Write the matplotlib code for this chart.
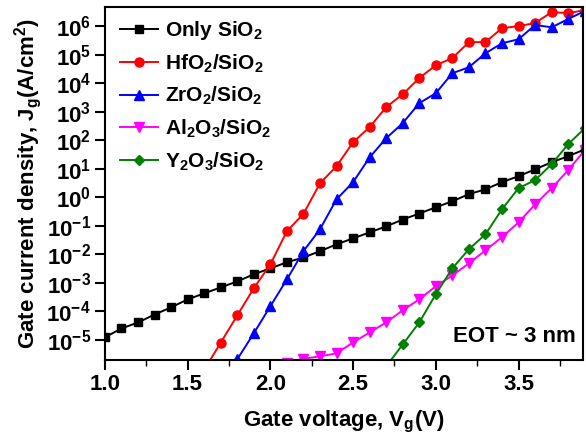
import numpy as np
import matplotlib.pyplot as plt
from matplotlib.ticker import LogLocator, MultipleLocator, NullFormatter

# Fonts: Arial-like bold everywhere, including mathtext sub/superscripts
plt.rcParams['font.family'] = 'Liberation Sans'
plt.rcParams['font.weight'] = 'bold'
plt.rcParams['mathtext.fontset'] = 'custom'
plt.rcParams['mathtext.rm'] = 'Liberation Sans:bold'
plt.rcParams['mathtext.it'] = 'Liberation Sans:bold'
plt.rcParams['mathtext.bf'] = 'Liberation Sans:bold'

# Data: gate voltage (V) and log10 of current density (A/cm^2)
v_sio2 = [1.0, 1.1, 1.2, 1.3, 1.4, 1.5, 1.6, 1.7, 1.8, 1.9, 2.0, 2.1, 2.2, 2.3, 2.4,
          2.5, 2.6, 2.7, 2.8, 2.9, 3.0, 3.1, 3.2, 3.3, 3.4, 3.5, 3.6, 3.7, 3.8, 3.9]
logj_sio2 = [-4.91, -4.60, -4.39, -4.11, -3.86, -3.58, -3.37, -3.16, -2.95, -2.70,
             -2.49, -2.28, -2.11, -1.89, -1.65, -1.44, -1.23, -1.02, -0.78, -0.57,
             -0.35, -0.14, 0.11, 0.28, 0.53, 0.74, 0.98, 1.23, 1.44, 1.68]

v_hfo2 = [1.6, 1.7, 1.8, 1.9, 2.0, 2.1, 2.2, 2.3, 2.4, 2.5, 2.6, 2.7, 2.8, 2.9,
          3.0, 3.1, 3.2, 3.3, 3.4, 3.5, 3.6, 3.7, 3.8, 3.9]
logj_hfo2 = [-6.05, -5.10, -4.14, -3.19, -2.35, -1.19, -0.58, 0.49, 1.09, 1.93,
             2.46, 3.16, 3.61, 4.18, 4.63, 4.88, 5.44, 5.44, 5.93, 6.00, 6.11,
             6.49, 6.46, 6.56]

v_zro2 = [1.7, 1.8, 1.9, 2.0, 2.1, 2.2, 2.3, 2.4, 2.5, 2.6, 2.7, 2.8, 2.9, 3.0,
          3.1, 3.2, 3.3, 3.4, 3.5, 3.6, 3.7, 3.8, 3.9]
logj_zro2 = [-6.60, -5.68, -4.77, -3.82, -2.88, -1.89, -1.12, -0.07, 0.53, 1.40,
             2.07, 2.60, 3.30, 3.65, 4.35, 4.56, 5.05, 5.40, 5.54, 6.04, 5.96,
             6.25, 6.53]

v_al2o3 = [2.1, 2.2, 2.3, 2.4, 2.5, 2.6, 2.7, 2.8, 2.9, 3.0, 3.1, 3.2, 3.3, 3.4,
           3.5, 3.6, 3.7, 3.8, 3.9]
logj_al2o3 = [-5.80, -5.66, -5.58, -5.47, -5.09, -4.74, -4.39, -3.96, -3.58, -3.12,
              -2.74, -2.32, -1.86, -1.40, -0.88, -0.25, 0.32, 0.95, 1.65]

v_y2o3 = [2.7, 2.8, 2.9, 3.0, 3.1, 3.2, 3.3, 3.4, 3.5, 3.6, 3.7, 3.8, 3.9]
logj_y2o3 = [-5.93, -5.16, -4.39, -3.40, -2.49, -1.82, -1.30, -0.42, 0.32, 0.60,
             1.16, 1.86, 2.42]

y_tick_exps = [-5, -4, -3, -2, -1, 0, 1, 2, 3, 4, 5, 6]
x_ticks = [1.0, 1.5, 2.0, 2.5, 3.0, 3.5]

series = [
    (v_sio2, logj_sio2, 'Only SiO$_2$', 'black', 's', 5.5),
    (v_hfo2, logj_hfo2, 'HfO$_2$/SiO$_2$', 'red', 'o', 6.5),
    (v_zro2, logj_zro2, 'ZrO$_2$/SiO$_2$', 'blue', '^', 7),
    (v_al2o3, logj_al2o3, 'Al$_2$O$_3$/SiO$_2$', 'magenta', 'v', 7),
    (v_y2o3, logj_y2o3, 'Y$_2$O$_3$/SiO$_2$', 'green', 'D', 5.5),
]

fig = plt.figure(figsize=(5.86, 4.41), dpi=100)
ax = fig.add_axes([0.179, 0.184, 0.816, 0.800])

for v, lj, lab, col, mk, ms in series:
    ax.plot(v, 10.0 ** np.array(lj), color=col, marker=mk, markersize=ms,
            linewidth=1.4, label=lab)

ax.set_yscale('log')
ax.set_xlim(1.0, 3.89)
ax.set_ylim(10 ** -5.7, 10 ** 6.67)

ax.set_xticks(x_ticks)
ax.set_xticklabels([f'{t:.1f}' for t in x_ticks])
ax.xaxis.set_minor_locator(MultipleLocator(0.25))

ax.set_yticks([10.0 ** e for e in y_tick_exps])
ax.set_yticklabels([r'$\mathbf{10^{%d}}$' % e for e in y_tick_exps])
ax.yaxis.set_minor_locator(LogLocator(base=10, subs=np.arange(2, 10)))
ax.yaxis.set_minor_formatter(NullFormatter())

ax.tick_params(which='major', direction='out', length=7, width=1.5,
               labelsize=16, pad=3, top=False, right=False)
ax.tick_params(which='minor', direction='out', length=4, width=1.0,
               top=False, right=False)
for s in ax.spines.values():
    s.set_linewidth(1.5)

ax.set_xlabel('Gate voltage, V$_g$(V)', fontsize=16, fontweight='bold', labelpad=10)
ax.set_ylabel('Gate current density, J$_g$(A/cm$^2$)', fontsize=16,
              fontweight='bold', labelpad=2)

ax.text(0.985, 0.065, 'EOT ~ 3 nm', transform=ax.transAxes, ha='right',
        va='center', fontsize=16, fontweight='bold')

ax.legend(loc='upper left', frameon=False, fontsize=15, handlelength=1.8,
          handletextpad=0.35, labelspacing=0.5, borderaxespad=0.0,
          bbox_to_anchor=(0.015, 0.99))

fig.savefig('out.png', dpi=100)
